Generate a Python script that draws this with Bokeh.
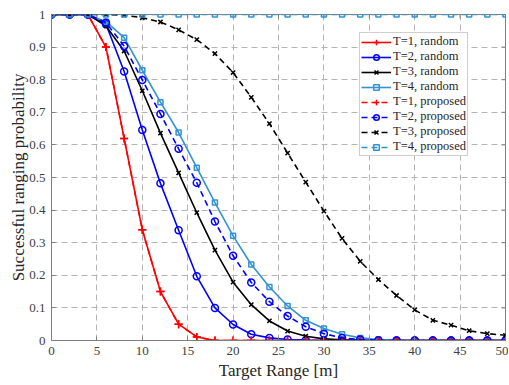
import math
from bokeh.plotting import figure
from bokeh.models import Legend, LegendItem, Range1d, FixedTicker
from bokeh.embed import file_html
from bokeh.resources import INLINE

x = [0, 2, 4, 6, 8, 10, 12, 14, 16, 18, 20, 22, 24, 26, 28, 30, 32, 34, 36, 38, 40, 42, 44, 46, 48, 50]

t1_random = [1, 1, 1, 0.90, 0.62, 0.34, 0.15, 0.05, 0.011, 0, 0, 0, 0, 0, 0, 0, 0, 0, 0, 0, 0, 0, 0, 0, 0, 0]
t2_random = [1, 1, 1, 0.97, 0.825, 0.646, 0.482, 0.338, 0.197, 0.10, 0.049, 0.019, 0.008, 0.003, 0.001, 0, 0, 0, 0, 0, 0, 0, 0, 0, 0, 0]
t3_random = [1, 1, 1, 0.965, 0.888, 0.766, 0.636, 0.514, 0.392, 0.277, 0.179, 0.11, 0.06, 0.029, 0.013, 0.005, 0.002, 0.001, 0, 0, 0, 0, 0, 0, 0, 0]
t4_random = [1, 1, 1, 0.978, 0.929, 0.829, 0.731, 0.638, 0.53, 0.423, 0.321, 0.233, 0.164, 0.106, 0.062, 0.037, 0.019, 0.008, 0.003, 0.001, 0, 0, 0, 0, 0, 0]

t1_proposed = [1, 1, 1, 0.90, 0.62, 0.34, 0.15, 0.05, 0.011, 0, 0, 0, 0, 0, 0, 0, 0, 0, 0, 0, 0, 0, 0, 0, 0, 0]
t2_proposed = [1, 1, 1, 0.975, 0.903, 0.799, 0.695, 0.588, 0.484, 0.365, 0.26, 0.178, 0.119, 0.075, 0.042, 0.021, 0.008, 0.003, 0.001, 0, 0, 0, 0, 0, 0, 0]
t3_proposed = [1, 1, 1, 1, 0.998, 0.99, 0.977, 0.953, 0.923, 0.88, 0.822, 0.746, 0.665, 0.575, 0.486, 0.397, 0.313, 0.243, 0.187, 0.138, 0.094, 0.062, 0.047, 0.03, 0.021, 0.016]
t4_proposed = [1] * 26

labels = ["T=1, random", "T=2, random", "T=3, random", "T=4, random",
          "T=1, proposed", "T=2, proposed", "T=3, proposed", "T=4, proposed"]

x_ticks = [0, 5, 10, 15, 20, 25, 30, 35, 40, 45, 50]
y_ticks = [0, 0.1, 0.2, 0.3, 0.4, 0.5, 0.6, 0.7, 0.8, 0.9, 1]

RED = "#ff0000"
BLUE = "#0000ff"
BLACK = "#000000"
CYAN = "#3393d2"
SERIF = "Liberation Serif"
AXIS_GRAY = "#808080"

p = figure(width=508, height=384, output_backend="svg", toolbar_location=None,
           x_range=Range1d(0, 50), y_range=Range1d(0, 1),
           min_border_left=51, min_border_top=14, min_border_right=3, min_border_bottom=44,
           x_axis_label="Target Range [m]", y_axis_label="Successful ranging probability")
p.outline_line_color = AXIS_GRAY
p.background_fill_color = "white"
p.border_fill_color = "white"

for ax in [p.xaxis[0], p.yaxis[0]]:
    ax.axis_line_color = AXIS_GRAY
    ax.major_tick_line_color = AXIS_GRAY
    ax.minor_tick_line_color = None
    ax.major_tick_in = 4
    ax.major_tick_out = 0
    ax.major_label_text_font = SERIF
    ax.major_label_text_font_size = "13px"
    ax.major_label_text_color = "#404040"
    ax.axis_label_text_font = SERIF
    ax.axis_label_text_font_style = "normal"
    ax.axis_label_text_color = "#262626"
p.xaxis[0].axis_label_text_font_size = "17px"
p.yaxis[0].axis_label_text_font_size = "17px"
p.xaxis[0].ticker = FixedTicker(ticks=x_ticks)
p.yaxis[0].ticker = FixedTicker(ticks=y_ticks)
p.xaxis[0].major_label_standoff = 6
p.xaxis[0].axis_label_standoff = 3
p.yaxis[0].major_label_standoff = 6
p.yaxis[0].axis_label_standoff = -2
p.yaxis[0].major_label_overrides = {1: "1", 0: "0"}

for g in [p.xgrid[0], p.ygrid[0]]:
    g.grid_line_color = "#b4b4b4"
    g.grid_line_dash = "6 4"
    g.grid_line_width = 1
p.xgrid[0].ticker = FixedTicker(ticks=x_ticks)
p.ygrid[0].ticker = FixedTicker(ticks=y_ticks)

# inward ticks on the top and right edges of the box (half of each dash is clipped by the frame)
p.scatter(x_ticks, [1] * len(x_ticks), marker="dash", angle=math.pi / 2, size=8,
          line_color=AXIS_GRAY, line_width=1)
p.scatter([50] * len(y_ticks), y_ticks, marker="dash", size=8,
          line_color=AXIS_GRAY, line_width=1)

series = [
    (t1_random, RED, "solid", "cross", 8),
    (t2_random, BLUE, "solid", "circle", 7),
    (t3_random, BLACK, "solid", "x", 6),
    (t4_random, CYAN, "solid", "square", 5),
    (t1_proposed, RED, "6 4", "cross", 8),
    (t2_proposed, BLUE, "6 4", "circle", 7),
    (t3_proposed, BLACK, "6 4", "x", 6),
    (t4_proposed, CYAN, "6 4", "square", 5),
]

items = []
for (ys, col, dash, marker, size), lab in zip(series, labels):
    r1 = p.line(x, ys, line_color=col, line_width=1.6, line_dash=dash)
    r2 = p.scatter(x, ys, marker=marker, size=size, line_color=col, fill_color=None, line_width=1.5)
    items.append(LegendItem(label=lab, renderers=[r1, r2]))

legend = Legend(items=items, location=(308, 184))
legend.label_text_font = SERIF
legend.label_text_font_size = "12.5px"
legend.label_text_color = "#262626"
legend.glyph_width = 30
legend.glyph_height = 14
legend.label_height = 14
legend.spacing = 0
legend.padding = 1
legend.margin = 0
legend.label_standoff = 2
legend.border_line_color = "#a0a0a0"
legend.border_line_width = 1
legend.background_fill_color = "white"
p.add_layout(legend, "center")

with open("out.html", "w") as f:
    f.write(file_html(p, INLINE))
